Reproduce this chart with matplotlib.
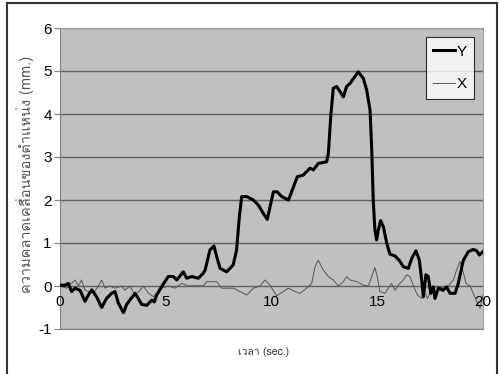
import matplotlib
matplotlib.use('Agg')
import matplotlib.pyplot as plt
from matplotlib import font_manager as fm
from matplotlib.ft2font import FT2Font
from matplotlib.patches import Rectangle

# time (sec.) / displacement (mm.)
t_y = [0.0, 0.24, 0.39, 0.55, 0.71, 0.95, 1.18, 1.34, 1.5, 1.73, 1.97, 2.2, 2.44, 2.6,
       2.76, 3.0, 3.15, 3.3, 3.55, 3.7, 3.86, 4.1, 4.34, 4.46, 4.57, 4.8, 5.12, 5.36,
       5.52, 5.83, 5.99, 6.23, 6.54, 6.78, 6.86, 7.09, 7.28, 7.41, 7.57, 7.88, 8.19,
       8.35, 8.48, 8.59, 8.83, 9.14, 9.38, 9.61, 9.8, 9.93, 10.09, 10.27, 10.48, 10.8,
       10.95, 11.22, 11.5, 11.82, 11.98, 12.21, 12.61, 12.69, 12.8, 12.92, 13.08, 13.4,
       13.55, 13.71, 14.1, 14.34, 14.5, 14.66, 14.74, 14.81, 14.89, 14.97, 15.05, 15.16,
       15.29, 15.45, 15.6, 15.84, 16.08, 16.23, 16.47, 16.63, 16.83, 16.99, 17.1, 17.18,
       17.3, 17.41, 17.53, 17.65, 17.73, 17.89, 18.12, 18.28, 18.44, 18.68, 18.83,
       19.07, 19.31, 19.54, 19.7, 19.83, 20.0]
y_vals = [0.02, 0.02, 0.06, -0.13, -0.05, -0.1, -0.36, -0.21, -0.09, -0.25, -0.5, -0.29,
          -0.17, -0.13, -0.4, -0.62, -0.43, -0.33, -0.17, -0.29, -0.43, -0.45, -0.33,
          -0.37, -0.21, -0.02, 0.22, 0.22, 0.14, 0.33, 0.18, 0.22, 0.18, 0.3, 0.37,
          0.84, 0.93, 0.68, 0.41, 0.33, 0.49, 0.84, 1.61, 2.08, 2.08, 2.0, 1.88, 1.69,
          1.55, 1.84, 2.19, 2.19, 2.08, 2.0, 2.19, 2.54, 2.58, 2.74, 2.7, 2.85, 2.89,
          3.09, 3.94, 4.6, 4.64, 4.4, 4.64, 4.71, 4.98, 4.83, 4.56, 4.09, 3.16, 2.0,
          1.3, 1.07, 1.3, 1.52, 1.38, 0.99, 0.74, 0.7, 0.57, 0.45, 0.41, 0.64, 0.82,
          0.6, 0.14, -0.25, 0.26, 0.22, -0.17, -0.02, -0.29, -0.05, -0.1, -0.02, -0.17,
          -0.17, 0.06, 0.6, 0.8, 0.85, 0.82, 0.72, 0.8]

t_x = [0.0, 0.3, 0.71, 0.87, 1.02, 1.18, 1.58, 1.81, 1.97, 2.13, 2.36, 2.6, 2.92, 3.07,
       3.3, 3.55, 3.78, 3.94, 4.18, 4.42, 4.57, 4.8, 5.12, 5.43, 5.75, 6.07, 6.38,
       6.78, 6.93, 7.41, 7.64, 8.19, 8.51, 8.83, 9.14, 9.46, 9.69, 9.93, 10.24, 10.56,
       10.8, 11.11, 11.35, 11.66, 11.9, 12.06, 12.21, 12.45, 12.69, 12.92, 13.16, 13.4,
       13.55, 13.71, 14.03, 14.34, 14.58, 14.74, 14.89, 15.0, 15.13, 15.37, 15.52,
       15.68, 15.84, 15.99, 16.23, 16.39, 16.55, 16.71, 16.9, 17.1, 17.26, 17.37,
       17.57, 17.81, 18.12, 18.36, 18.6, 18.75, 18.91, 19.04, 19.2, 19.39, 19.54,
       19.7, 19.86, 20.0]
x_vals = [0.0, -0.05, 0.14, 0.0, 0.14, -0.1, -0.17, 0.0, 0.14, -0.05, 0.0, -0.05, 0.0,
          -0.1, 0.0, -0.21, -0.1, 0.0, -0.17, -0.25, -0.17, -0.05, 0.0, -0.05, 0.06,
          0.0, 0.01, 0.0, 0.1, 0.1, -0.05, -0.05, -0.13, -0.21, -0.05, 0.0, 0.14, 0.02,
          -0.23, -0.13, -0.05, -0.13, -0.17, -0.05, 0.06, 0.45, 0.6, 0.37, 0.22, 0.14,
          0.0, 0.1, 0.22, 0.14, 0.1, 0.02, 0.0, 0.22, 0.43, 0.22, -0.13, -0.17, -0.05,
          0.06, -0.1, 0.02, 0.14, 0.26, 0.22, 0.0, -0.21, -0.29, -0.17, -0.29, -0.1,
          0.0, -0.05, 0.0, 0.14, 0.37, 0.57, 0.37, 0.06, 0.0, -0.17, -0.36, -0.52, -0.21]

y_ticks = [-1, 0, 1, 2, 3, 4, 5, 6]
x_ticks = [0, 5, 10, 15, 20]
xlabel = 'เวลา (sec.)'
ylabel = 'ความคลาดเคลื่อนของตำแหน่ง (mm.)'

# find a font that has Thai glyphs
thai_fam = None
for f in fm.fontManager.ttflist:
    try:
        if 0x0E04 in FT2Font(f.fname).get_charmap():
            thai_fam = f.name
            break
    except Exception:
        pass
label_fams = ([thai_fam] if thai_fam else []) + ['Liberation Sans', 'DejaVu Sans']

plt.rcParams['font.family'] = ['Liberation Sans', 'DejaVu Sans']

fig = plt.figure(figsize=(4.99, 3.74), dpi=100)
ax = fig.add_axes([60 / 499, 1 - 329 / 374, 423 / 499, 301 / 374])
ax.set_facecolor('#c0c0c0')

ax.plot(t_x, x_vals, color='#555555', lw=0.7, label='X', zorder=3)
ax.plot(t_y, y_vals, color='black', lw=2.2, label='Y', zorder=4)

ax.set_xlim(0, 20)
ax.set_ylim(-1, 6)
ax.set_yticks(y_ticks)
ax.set_yticklabels([str(v) for v in y_ticks])
ax.tick_params(axis='y', labelsize=11, length=4, color='#808080', pad=2)
ax.set_xticks([])
for v in y_ticks:
    ax.axhline(v, color='#606060', lw=1.0, zorder=1)
for v in x_ticks:
    ax.text(v, -0.2, str(v), ha='center', va='top', fontsize=11, zorder=5)

for s in ['top', 'right']:
    ax.spines[s].set_color('#a0a0a0')
for s in ['left', 'bottom']:
    ax.spines[s].set_color('#808080')

handles, labels = ax.get_legend_handles_labels()
leg = ax.legend(handles[::-1], labels[::-1], loc='upper right',
                bbox_to_anchor=(414 / 423, 292 / 301), borderaxespad=0,
                fontsize=11, frameon=True, fancybox=False, edgecolor='black',
                handlelength=1.4, handletextpad=0.1, labelspacing=1.2, borderpad=0.5)
leg.get_frame().set_linewidth(0.8)

fig.text(264 / 499, 1 - 352 / 374, xlabel, ha='center', va='center', fontsize=7.5,
         color='#333333', family=label_fams)
fig.text(25 / 499, 1 - 174 / 374, ylabel, ha='center', va='center', fontsize=10.5,
         color='#555555', rotation=90, family=label_fams)

fig.patches.append(Rectangle((7 / 499, -0.05), 490 / 499, 1.05 - 3 / 374,
                             transform=fig.transFigure, fill=False,
                             edgecolor='#333333', lw=1.5))

fig.savefig('out.png', dpi=100)
